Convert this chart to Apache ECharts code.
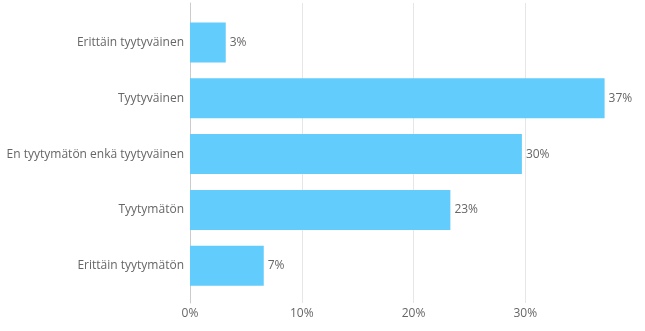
<!DOCTYPE html>
<html>
<head>
<meta charset="utf-8">
<script src="https://cdn.jsdelivr.net/npm/echarts@6/dist/echarts.min.js"></script>
<style>
html,body{margin:0;padding:0;background:#fff;}
#chart{width:645px;height:331px;}
</style>
</head>
<body>
<div id="chart"></div>
<script>
const categories = ["Erittäin tyytyväinen", "Tyytyväinen", "En tyytymätön enkä tyytyväinen", "Tyytymätön", "Erittäin tyytymätön"];
const values = [3.2, 37.1, 29.7, 23.3, 6.6];
const xTicks = [0, 10, 20, 30, 40];

const font = "'Open Sans', sans-serif";
const chart = echarts.init(document.getElementById('chart'));
chart.setOption({
  animation: false,
  grid: [
    {left: 190, right: 8, top: 3, bottom: 28},
    {left: 190, right: 8, top: 14.6, bottom: 37.4}
  ],
  xAxis: [
    {
      gridIndex: 0, type: 'value', min: xTicks[0], max: xTicks[xTicks.length - 1], interval: 10,
      axisLine: {show: false}, axisTick: {show: false},
      splitLine: {show: true, showMinLine: false, showMaxLine: false, lineStyle: {color: '#e6e6e6', width: 1}},
      axisLabel: {show: true, showMaxLabel: false, margin: 5, color: '#666', fontSize: 12, fontFamily: font,
        formatter: v => v + '%'}
    },
    {
      gridIndex: 1, type: 'value', min: xTicks[0], max: xTicks[xTicks.length - 1], interval: 10,
      show: false, splitLine: {show: false}
    }
  ],
  yAxis: [
    {
      gridIndex: 0, type: 'category', data: categories, inverse: true,
      axisLine: {show: true, lineStyle: {color: '#cccccc', width: 1}},
      axisTick: {show: false}, axisLabel: {show: false}, splitLine: {show: false}
    },
    {
      gridIndex: 1, type: 'category', data: categories, inverse: true,
      axisLine: {show: false}, axisTick: {show: false}, splitLine: {show: false},
      axisLabel: {show: true, margin: 6, color: '#666', fontSize: 12, fontFamily: font}
    }
  ],
  series: [{
    type: 'bar',
    xAxisIndex: 1, yAxisIndex: 1,
    data: values,
    barWidth: 40,
    itemStyle: {color: '#62cdfc'},
    label: {
      show: true, position: 'right', distance: 4,
      color: '#666', fontSize: 12, fontFamily: font,
      formatter: p => Math.round(p.value) + '%'
    }
  }]
});
</script>
</body>
</html>
